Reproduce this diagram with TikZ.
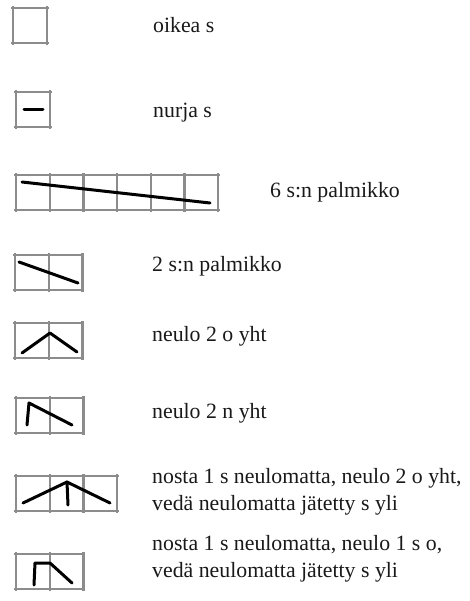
\documentclass[tikz,border=0pt]{standalone}
\usepackage{fontspec}
\setmainfont{Liberation Serif}
\usetikzlibrary{positioning}

\definecolor{gridgray}{RGB}{140,140,140}
\definecolor{textgray}{RGB}{25,25,25}

\tikzset{
    gridline/.style={draw=gridgray,line width=2.2pt},
    yarn/.style={draw=black,line width=3pt,line cap=round,line join=round},
    label/.style={anchor=west,inner sep=0pt,text=textgray,align=left,
        font=\fontsize{21.8}{27}\selectfont}
}

% grid of #3 cells, top left corner at (#1,#2)
\newcommand{\stitchgrid}[3]{
    \foreach \i in {0,...,#3}
        \draw[gridline] (#1+\i*33.7,#2-2) -- ++(0,39);
    \draw[gridline] (#1-2,#2) -- ++(#3*33.7+4,0);
    \draw[gridline] (#1-2,#2+35) -- ++(#3*33.7+4,0);
}

\begin{document}
\begin{tikzpicture}[x=1pt,y=-1pt]
    \useasboundingbox (0,0) rectangle (469,601);

    \stitchgrid{13}{8}{1}
    \stitchgrid{16}{92}{1}
    \stitchgrid{16}{175}{6}
    \stitchgrid{15}{255}{2}
    \stitchgrid{15}{323}{2}
    \stitchgrid{16}{398}{2}
    \stitchgrid{16}{476}{3}
    \stitchgrid{16}{554}{2}

    \coordinate (P1) at (24,110);
    \coordinate (P2) at (43,110);

    \coordinate (C1) at (22,182);
    \coordinate (C2) at (210,203);

    \coordinate (D1) at (19,262);
    \coordinate (D2) at (78,283);

    \coordinate (K1) at (22,353);
    \coordinate (K2) at (50,333);
    \coordinate (K3) at (77,352);

    \coordinate (N1) at (27,425);
    \coordinate (N2) at (29,403);
    \coordinate (N3) at (72,425);

    \coordinate (S1) at (23,503);
    \coordinate (S2) at (67,482);
    \coordinate (S3) at (110,503);
    \coordinate (S4) at (68,505);

    \coordinate (T1) at (34,585);
    \coordinate (T2) at (35,563);
    \coordinate (T3) at (50,563);
    \coordinate (T4) at (72,583);

    \draw[yarn] (P1)--(P2);
    \draw[yarn] (C1)--(C2);
    \draw[yarn] (D1)--(D2);
    \draw[yarn] (K1)--(K2)--(K3);
    \draw[yarn] (N1)--(N2)--(N3);
    \draw[yarn] (S1)--(S2)--(S3);
    \draw[yarn] (S2)--(S4);
    \draw[yarn] (T1)--(T2)--(T3)--(T4);

    \node[label] (oikea) at (153,25) {oikea s};
    \node[label] (nurja) at (153,113) {nurja s};
    \node[label] (palm6) at (270,192) {6 s:n palmikko};
    \node[label] (palm2) at (152,266) {2 s:n palmikko};
    \node[label] (oyht) at (152,336) {neulo 2 o yht};
    \node[label] (nyht) at (152,413) {neulo 2 n yht};
    \node[label] (nosta2) at (152,492) {nosta 1 s neulomatta, neulo 2 o yht,\\vedä neulomatta jätetty s yli};
    \node[label] (nosta1) at (152,559) {nosta 1 s neulomatta, neulo 1 s o,\\vedä neulomatta jätetty s yli};
\end{tikzpicture}
\end{document}
